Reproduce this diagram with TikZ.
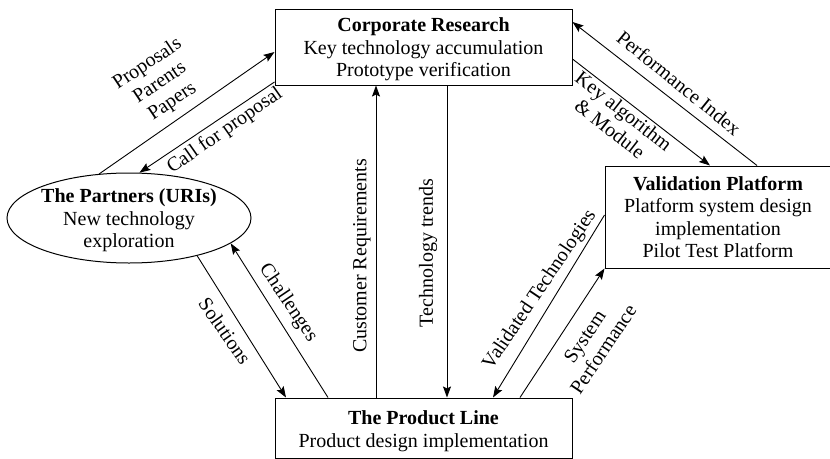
\documentclass[tikz,border=0pt]{standalone}
\usepackage{fontspec}
\setmainfont{Liberation Serif}
\usetikzlibrary{shapes.geometric,arrows.meta,calc}
\begin{document}
\begin{tikzpicture}[x=1pt,y=-1pt,
  every node/.style={font=\fontsize{20}{22.5}\selectfont, align=center, inner sep=0pt},
  boxnode/.style={draw, line width=1pt, rectangle},
  lbl/.style={font=\fontsize{20}{22.5}\selectfont},
  conn/.style={line width=0.9pt, -{Stealth[length=11pt,width=8pt,inset=2pt]}}
]
\useasboundingbox (0,0) rectangle (830,458);
\node[boxnode, minimum width=297pt, minimum height=76pt] (corp) at (423.5,47) {};
\node (corptxt) at (423.5,49.5)
  {\textbf{Corporate Research}\\Key technology accumulation\\Prototype verification};
\node[boxnode, minimum width=226pt, minimum height=102pt] (val) at (718,217)
  {\textbf{Validation Platform}\\Platform system design\\implementation\\Pilot Test Platform};
\node[boxnode, minimum width=297pt, minimum height=60pt] (prod) at (423.5,428) {};
\node (prodtxt) at (423.5,431) {\textbf{The Product Line}\\Product design implementation};
\node[draw, line width=1pt, ellipse, minimum width=244pt, minimum height=90pt] (part) at (129,218) {};
\node (parttxt) at (129,220.5) {\textbf{The Partners (URIs)}\\New technology\\exploration};

\draw[conn] (part.124) -- ([yshift=-5pt]corp.west);
\draw[conn] ([yshift=-35pt]corp.west) -- (part.77);
\draw[conn] ([yshift=-12pt]corp.east) -- ([xshift=-8pt]val.north);
\draw[conn] ([xshift=39pt]val.north) -- ([yshift=25pt]corp.east);
\draw[conn] ([xshift=-47.5pt]prod.north) -- ([xshift=-47.5pt]corp.south);
\draw[conn] ([xshift=23.5pt]corp.south) -- ([xshift=23.5pt]prod.north);
\draw[conn] (part.-29) -- ([xshift=-137.5pt]prod.north);
\draw[conn] ([xshift=-95.5pt]prod.north) -- (part.-14);
\draw[conn] ([yshift=2pt]val.west) -- ([xshift=69.5pt]prod.north);
\draw[conn] ([xshift=96.5pt]prod.north) -- (val.south west);

\node[lbl, rotate=33.8] (l1) at (160,83) {Proposals\\Parents\\Papers};
\node[lbl, rotate=35] (l2) at (225,131) {Call for proposal};
\node[lbl, rotate=-38] (l3) at (617,120) {Key algorithm\\\& Module};
\node[lbl, rotate=-39] (l4) at (679,83) {Performance Index};
\node[lbl, rotate=90] (l5) at (362,256) {Customer Requirements};
\node[lbl, rotate=90] (l6) at (428,253) {Technology trends};
\node[lbl, rotate=-55] (l7) at (225,331) {Solutions};
\node[lbl, rotate=-56] (l8) at (288,303) {Challenges};
\node[lbl, rotate=56] (l9) at (540,290) {Validated Technologies};
\node[lbl, rotate=56] (l10) at (594,343) {System\\Performance};
\end{tikzpicture}
\end{document}
